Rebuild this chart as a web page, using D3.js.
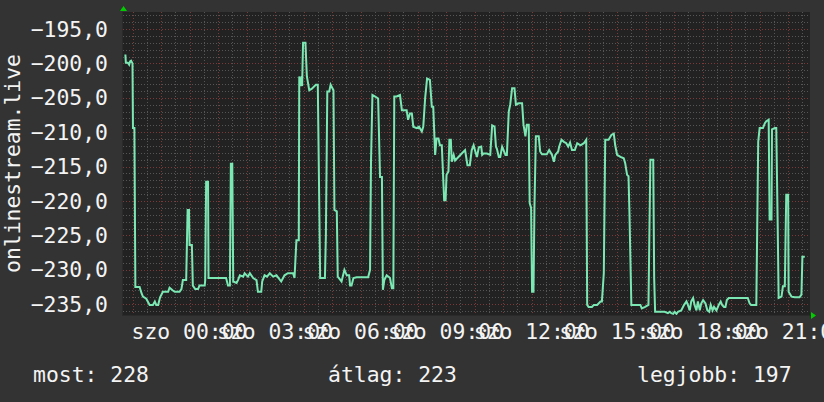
<!DOCTYPE html>
<html>
<head>
<meta charset="utf-8">
<script src="https://cdn.jsdelivr.net/npm/d3@7"></script>
<style>
  body { margin: 0; background: #333; }
  svg { display: block; }
  text { font-family: 'DejaVu Sans Mono', monospace; font-size: 21.4px; fill: #f4f4f4; }
</style>
</head>
<body>
<div class="svg-container"></div>
<script>
// minutes since the graph start (fri 21:40) and the measured value
const minutes = [5, 6, 10, 13, 15, 17, 20, 21, 24, 26, 35, 39, 42, 49, 56, 63, 67, 70, 74, 78,
  84, 95, 98, 105, 109, 119, 123, 126, 133, 136, 139, 140, 145, 147, 152, 158, 161, 172, 173, 175,
  179, 180, 217, 221, 225, 227, 230, 232, 239, 242, 246, 253, 256, 263, 267, 274, 281, 284, 291, 293,
  298, 303, 309, 316, 323, 333, 340, 347, 358, 361, 365, 370, 371, 374, 376, 377, 379, 384, 387, 392,
  397, 406, 410, 411, 415, 425, 427, 430, 434, 437, 443, 445, 450, 452, 460, 466, 471, 476, 478, 481,
  485, 492, 516, 520, 522, 525, 530, 537, 541, 545, 547, 550, 555, 562, 566, 569, 571, 576, 583, 587,
  597, 600, 604, 608, 611, 618, 623, 629, 632, 636, 640, 646, 650, 653, 657, 660, 664, 667, 671, 676,
  679, 681, 685, 687, 690, 692, 696, 699, 706, 713, 720, 725, 730, 734, 738, 742, 745, 749, 754, 756,
  759, 766, 773, 777, 782, 785, 787, 791, 794, 798, 801, 805, 808, 812, 815, 819, 824, 827, 833, 840,
  843, 847, 850, 854, 856, 859, 861, 864, 866, 869, 875, 878, 882, 892, 897, 903, 907, 910, 916, 918,
  923, 928, 933, 937, 941, 945, 951, 956, 963, 970, 975, 977, 980, 987, 991, 998, 1005, 1008, 1012, 1015,
  1022, 1028, 1033, 1036, 1040, 1047, 1054, 1057, 1061, 1064, 1066, 1070, 1089, 1092, 1099, 1106, 1110, 1116, 1118, 1120,
  1140, 1147, 1151, 1154, 1158, 1161, 1165, 1168, 1175, 1181, 1186, 1189, 1193, 1196, 1200, 1203, 1207, 1210, 1214, 1217,
  1221, 1226, 1230, 1234, 1237, 1241, 1244, 1249, 1254, 1258, 1261, 1265, 1268, 1271, 1275, 1315, 1319, 1322, 1333, 1337,
  1340, 1347, 1351, 1354, 1359, 1361, 1365, 1366, 1372, 1375, 1378, 1380, 1386, 1389, 1393, 1396, 1400, 1401, 1407, 1414,
  1424, 1428, 1430, 1435];

const signal = [-198.7, -199.9, -199.9, -200.2, -199.7, -199.6, -200.0, -209.4, -209.4, -232.5, -232.5, -233.4, -233.9, -234.2, -235.1, -235.1, -234.6, -235.1, -235.1, -234.0,
  -233.2, -233.2, -232.6, -233.0, -233.2, -233.2, -232.8, -231.5, -231.5, -221.3, -221.3, -226.4, -226.4, -232.3, -232.8, -232.8, -232.3, -232.3, -231.5, -217.2,
  -217.2, -231.2, -231.2, -232.3, -232.3, -214.6, -214.6, -231.7, -231.9, -231.5, -230.8, -231.0, -230.5, -231.0, -230.5, -231.2, -231.5, -233.2, -233.2, -231.7,
  -230.8, -231.0, -230.5, -231.0, -230.8, -231.7, -230.8, -230.5, -230.5, -231.2, -225.7, -225.7, -201.9, -203.3, -201.9, -203.3, -197.0, -197.0, -201.9, -203.9,
  -203.7, -203.1, -203.1, -208.7, -231.2, -231.2, -225.2, -204.1, -204.1, -203.1, -203.9, -221.3, -221.5, -231.0, -231.7, -230.0, -230.8, -230.8, -232.3, -232.3,
  -231.2, -231.1, -231.1, -230.0, -214.3, -204.6, -204.8, -205.1, -216.5, -216.5, -232.9, -231.5, -230.8, -231.2, -232.7, -232.7, -204.8, -204.8, -204.6, -206.8,
  -206.8, -208.2, -207.3, -207.3, -209.2, -209.4, -209.2, -209.9, -209.2, -205.0, -202.2, -202.4, -206.3, -206.3, -213.3, -210.9, -210.9, -211.9, -211.9, -219.9,
  -219.9, -216.2, -215.7, -211.1, -211.1, -214.3, -213.3, -214.1, -213.6, -213.1, -212.6, -214.8, -214.8, -212.6, -211.9, -212.9, -213.6, -212.2, -212.1, -213.3,
  -213.1, -213.1, -213.3, -209.0, -209.2, -212.1, -212.4, -213.6, -213.6, -212.1, -212.6, -213.3, -213.3, -207.0, -206.0, -203.6, -203.6, -206.0, -205.8, -205.8,
  -208.9, -210.6, -208.9, -208.9, -220.3, -221.0, -233.2, -233.2, -221.0, -210.6, -210.6, -212.8, -213.2, -213.2, -212.6, -213.3, -214.3, -213.3, -212.8, -212.1,
  -211.1, -211.4, -211.6, -212.1, -211.5, -212.6, -212.6, -211.6, -211.9, -211.6, -211.1, -235.1, -235.4, -235.4, -235.1, -235.1, -234.6, -234.6, -230.5, -211.1,
  -211.1, -210.4, -210.2, -211.9, -213.3, -213.6, -213.8, -214.5, -216.2, -216.4, -221.8, -235.1, -235.1, -235.6, -235.4, -235.1, -214.0, -214.0, -231.2, -236.1,
  -236.1, -236.3, -236.1, -236.3, -236.4, -236.1, -236.4, -236.1, -235.9, -235.1, -234.6, -235.1, -235.9, -234.6, -234.1, -235.1, -235.9, -234.6, -235.9, -234.9,
  -234.4, -234.9, -235.9, -236.1, -235.1, -235.9, -235.4, -235.9, -235.1, -234.6, -235.1, -235.4, -235.4, -234.4, -234.1, -234.1, -234.9, -235.1, -235.1, -211.4,
  -209.4, -209.4, -208.7, -208.4, -208.2, -222.7, -222.7, -209.6, -209.4, -209.4, -223.5, -234.1, -233.9, -232.4, -232.4, -219.1, -219.1, -233.2, -233.9, -234.0,
  -234.0, -233.6, -228.1, -228.1];

const yTicks = [-235, -230, -225, -220, -215, -210, -205, -200, -195];
const dayName = 'szo';
const yTitle = 'onlinestream.live';
const legendLabels = ['most', 'átlag', 'legjobb'];
const legendValues = [228, 223, 197];

const startTime = new Date(2024, 2, 15, 21, 40);
const endTime = new Date(2024, 2, 16, 21, 46);

const width = 824, height = 402;
const plot = { left: 123, right: 810, top: 12, bottom: 315 };

const svg = d3.select('.svg-container').append('svg')
  .attr('width', width)
  .attr('height', height);

svg.append('rect')
  .attr('width', width)
  .attr('height', height)
  .attr('fill', '#333333');

const x = d3.scaleTime()
  .domain([startTime, endTime])
  .range([plot.left, plot.right]);

const y = d3.scaleLinear()
  .domain([-236.57, -192.53])
  .range([plot.bottom, plot.top]);

svg.append('rect')
  .attr('x', plot.left)
  .attr('y', plot.top)
  .attr('width', plot.right - plot.left)
  .attr('height', plot.bottom - plot.top)
  .attr('fill', '#222222');

const grid = svg.append('g').attr('shape-rendering', 'crispEdges');

// minor grid: every 30 min and every 1 unit
const minorX = d3.timeMinute.every(30).range(startTime, endTime)
  .filter(d => d.getMinutes() !== 0);
grid.selectAll('.minor-x')
  .data(minorX)
  .enter()
  .append('line')
  .attr('class', 'minor-x')
  .attr('x1', d => Math.round(x(d)) + 0.5)
  .attr('x2', d => Math.round(x(d)) + 0.5)
  .attr('y1', plot.top)
  .attr('y2', plot.bottom)
  .attr('stroke', '#555')
  .attr('stroke-dasharray', '1,2');

const minorY = d3.range(-236, -192).filter(v => v % 5 !== 0);
grid.selectAll('.minor-y')
  .data(minorY)
  .enter()
  .append('line')
  .attr('class', 'minor-y')
  .attr('x1', plot.left)
  .attr('x2', plot.right)
  .attr('y1', d => Math.round(y(d)) + 0.5)
  .attr('y2', d => Math.round(y(d)) + 0.5)
  .attr('stroke', '#555')
  .attr('stroke-dasharray', '1,2');

// major grid: hours and every 5 units
const majorX = d3.timeHour.every(1).range(startTime, endTime);
grid.selectAll('.major-x')
  .data(majorX)
  .enter()
  .append('line')
  .attr('class', 'major-x')
  .attr('x1', d => Math.round(x(d)) + 0.5)
  .attr('x2', d => Math.round(x(d)) + 0.5)
  .attr('y1', plot.top)
  .attr('y2', plot.bottom)
  .attr('stroke', '#7a3a3a')
  .attr('stroke-dasharray', '1,2');

grid.selectAll('.major-y')
  .data(yTicks)
  .enter()
  .append('line')
  .attr('class', 'major-y')
  .attr('x1', plot.left)
  .attr('x2', plot.right)
  .attr('y1', d => Math.round(y(d)) + 0.5)
  .attr('y2', d => Math.round(y(d)) + 0.5)
  .attr('stroke', '#7a3a3a')
  .attr('stroke-dasharray', '1,2');

// signal line
const points = minutes.map((m, i) => ({
  time: d3.timeMinute.offset(startTime, m),
  value: signal[i]
}));

const line = d3.line()
  .x(d => x(d.time))
  .y(d => y(d.value));

svg.append('path')
  .datum(points)
  .attr('d', line)
  .attr('fill', 'none')
  .attr('stroke', '#7be8b4')
  .attr('stroke-width', 2)
  .attr('stroke-linejoin', 'miter');

// axes frame + arrows
svg.append('line')
  .attr('x1', plot.left - 0.5).attr('x2', plot.left - 0.5)
  .attr('y1', plot.top).attr('y2', plot.bottom + 1)
  .attr('stroke', '#2a2a2a');
svg.append('line')
  .attr('x1', plot.left).attr('x2', plot.right + 2)
  .attr('y1', plot.bottom + 0.5).attr('y2', plot.bottom + 0.5)
  .attr('stroke', '#2a2a2a');

svg.append('path')
  .attr('d', `M${plot.left - 3},${plot.top - 1}L${plot.left + 4},${plot.top - 1}L${plot.left + 0.5},${plot.top - 6}Z`)
  .attr('fill', '#00cc00');
svg.append('path')
  .attr('d', `M${plot.right + 1},${plot.bottom - 3}L${plot.right + 1},${plot.bottom + 4}L${plot.right + 6},${plot.bottom + 0.5}Z`)
  .attr('fill', '#00cc00');

// y labels
const fmt = d3.format('.1f');
svg.selectAll('.ylabel')
  .data(yTicks)
  .enter()
  .append('text')
  .attr('class', 'ylabel')
  .attr('x', 108)
  .attr('y', d => y(d) + 7.7)
  .attr('text-anchor', 'end')
  .text(d => fmt(d).replace('.', ','));

// x labels every 3 hours
const labelTimes = d3.timeHour.every(3).range(startTime, endTime);
const hm = d3.timeFormat('%H:%M');
svg.selectAll('.xlabel')
  .data(labelTimes)
  .enter()
  .append('text')
  .attr('class', 'xlabel')
  .attr('x', d => x(d))
  .attr('y', 338.5)
  .attr('text-anchor', 'middle')
  .text(d => `${dayName} ${hm(d)}`);

// axis title
svg.append('text')
  .attr('transform', `translate(20,${(plot.top + plot.bottom) / 2}) rotate(-90)`)
  .attr('text-anchor', 'middle')
  .text(yTitle);

// legend
const legendX = [33, 328, 637];
svg.selectAll('.legend')
  .data(legendLabels)
  .enter()
  .append('text')
  .attr('class', 'legend')
  .attr('x', (d, i) => legendX[i])
  .attr('y', 381.7)
  .text((d, i) => `${d}: ${legendValues[i]}`);
</script>
</body>
</html>
